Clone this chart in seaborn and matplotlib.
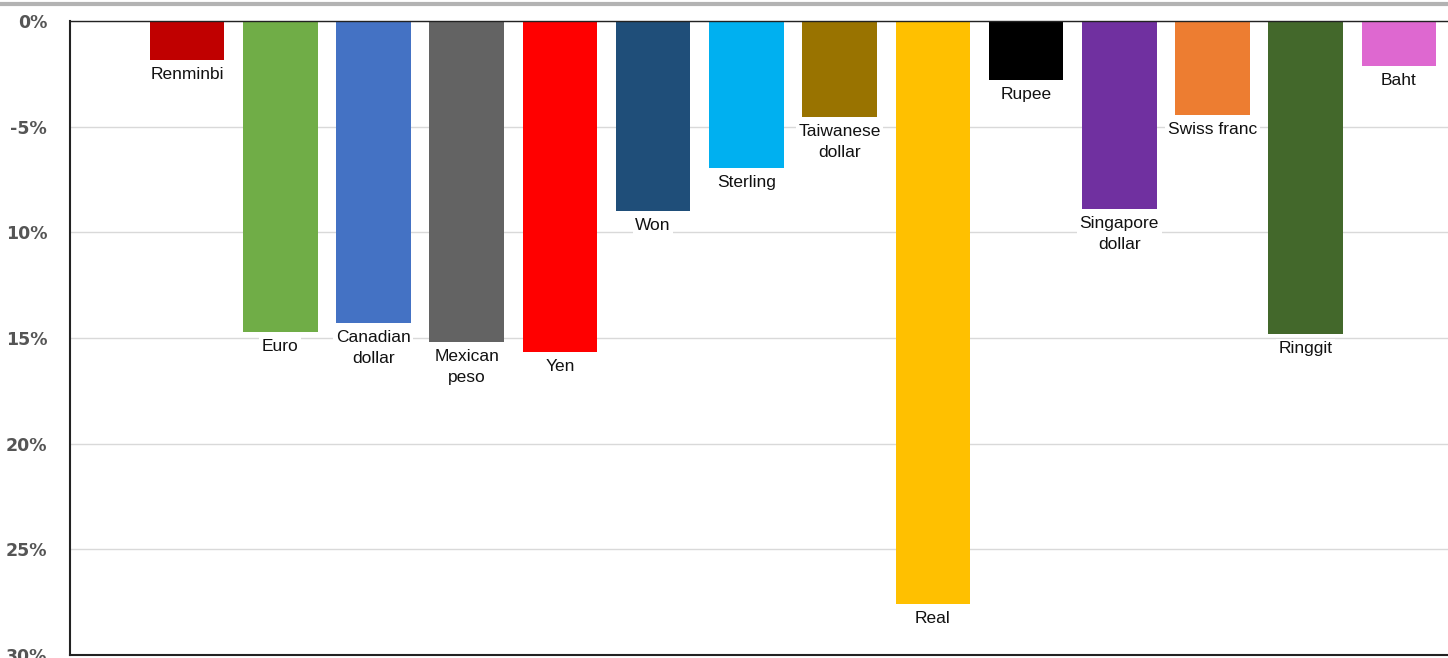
import matplotlib
matplotlib.use("Agg")
import matplotlib.pyplot as plt
import seaborn as sns
import pandas as pd
from matplotlib.lines import Line2D

currencies = ["Renminbi", "Euro", "Canadian\ndollar", "Mexican\npeso", "Yen", "Won",
              "Sterling", "Taiwanese\ndollar", "Real", "Rupee", "Singapore\ndollar",
              "Swiss franc", "Ringgit", "Baht"]
declines = [1.85, 14.7, 14.3, 15.18, 15.65, 8.98, 6.97, 4.53, 27.6, 2.79, 8.91, 4.45, 14.83, 2.11]
colors = ["#C00000", "#70AD47", "#4472C4", "#636363", "#FF0000", "#1F4E79", "#00B0F0",
          "#997300", "#FFC000", "#000000", "#7030A0", "#ED7D31", "#43682B", "#DE68D0"]
tick_values = [0, 5, 10, 15, 20, 25, 30]
tick_labels = ["0%", "-5%", "10%", "15%", "20%", "25%", "30%"]

df = pd.DataFrame({"currency": currencies, "decline": declines})

sns.set_theme(style="white")
plt.rcParams["font.family"] = ["Liberation Sans", "DejaVu Sans"]

fig = plt.figure(figsize=(14.48, 6.58), dpi=100)
ax = fig.add_axes([70 / 1448, 1 - 655 / 658, 1 - 70 / 1448, (655 - 21) / 658])

sns.barplot(data=df, x="currency", y="decline", hue="currency", order=currencies,
            hue_order=currencies, palette=colors, width=0.8, legend=False,
            saturation=1, linewidth=0, ax=ax, zorder=3)

ax.set_xlim(-1.255, 13.526)
ax.set_ylim(30, 0)
ax.set_yticks(tick_values)
ax.set_yticklabels(tick_labels, family="DejaVu Sans", fontsize=12.5, color="#555555",
                   fontweight="bold")
ax.tick_params(axis="y", length=0, pad=16.5)
ax.set_xticks([])
ax.set_xlabel("")
ax.set_ylabel("")
ax.yaxis.grid(True, color="#d9d9d9", linewidth=1, zorder=0)
ax.set_axisbelow(True)

for side in ["left", "bottom"]:
    ax.spines[side].set_color("#222222")
    ax.spines[side].set_linewidth(1.5)
ax.spines["top"].set_color("#222222")
ax.spines["top"].set_linewidth(1.0)
ax.spines["top"].set_zorder(6)
ax.spines["right"].set_visible(False)

for i, (lab, val) in enumerate(zip(currencies, declines)):
    ax.annotate(lab, xy=(i, val), xytext=(0, -5), textcoords="offset points",
                ha="center", va="top", fontsize=12.5, color="#111111",
                linespacing=1.5, zorder=5,
                bbox=dict(boxstyle="square,pad=0.15", fc="white", ec="none"))

fig.add_artist(Line2D([0, 1], [1 - 4 / 658, 1 - 4 / 658], transform=fig.transFigure,
                      color="#b3b3b3", linewidth=3))

fig.savefig("out.png", dpi=100)
